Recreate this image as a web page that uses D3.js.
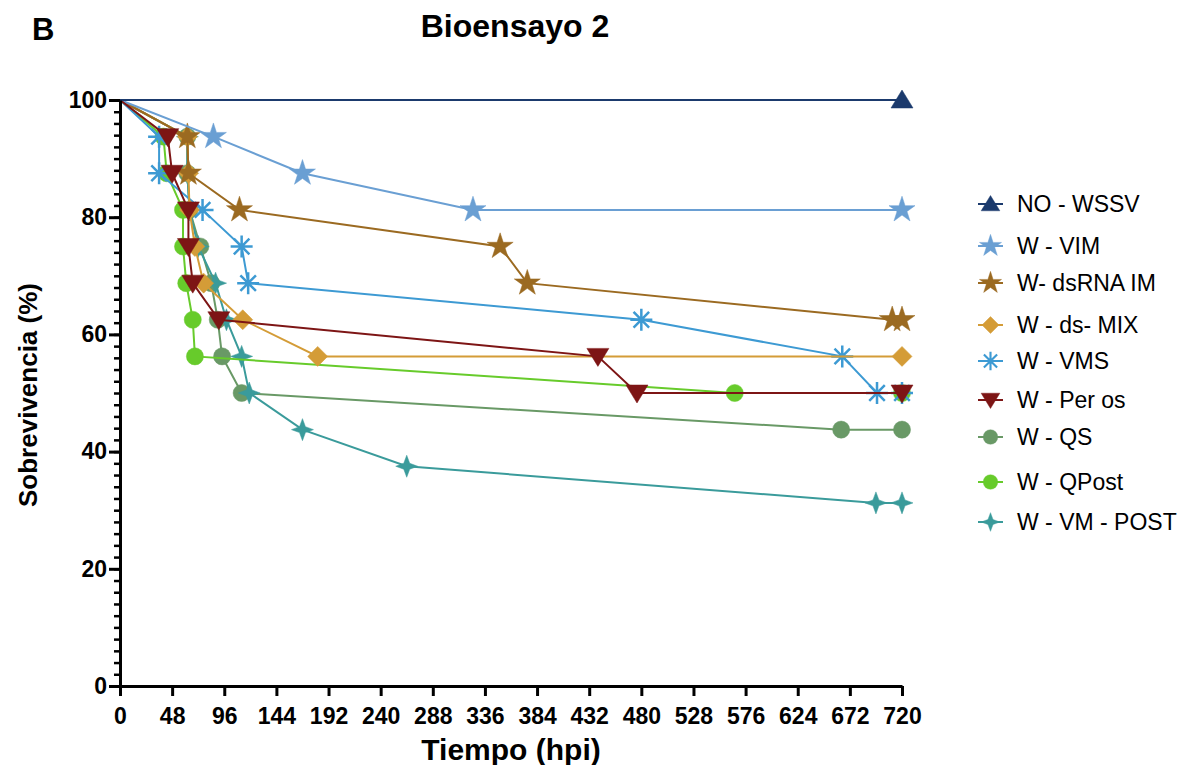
<!DOCTYPE html>
<html>
<head>
<meta charset="utf-8">
<script src="https://cdn.jsdelivr.net/npm/d3@7"></script>
<style>
  html, body { margin: 0; padding: 0; background: #fff; }
  svg { display: block; font-family: "Liberation Sans", Arial, Helvetica, sans-serif; }
</style>
</head>
<body>
<svg id="chart" width="1185" height="765"></svg>
<script>
// Survival (%) over time (hours post infection) for each treatment group
const seriesNames = ["NO - WSSV", "W - VIM", "W- dsRNA IM", "W - ds- MIX", "W - VMS",
                     "W - Per os", "W - QS", "W - QPost", "W - VM - POST"];

const hoursNoWssv = [0, 720];
const survNoWssv  = [100, 100];

const hoursVim = [0, 86, 168, 325, 720];
const survVim  = [100, 93.75, 87.5, 81.25, 81.25];

const hoursDsRnaIm = [0, 62, 63, 110, 350, 375, 711, 720];
const survDsRnaIm  = [100, 93.75, 87.5, 81.25, 75, 68.75, 62.5, 62.5];

const hoursDsMix = [0, 62, 63, 64, 69, 77, 113, 182, 720];
const survDsMix  = [100, 93.75, 87.5, 81.25, 75, 68.75, 62.5, 56.25, 56.25];

const hoursVms = [0, 36, 36, 76, 112, 118, 480, 665, 697, 720];
const survVms  = [100, 93.75, 87.5, 81.25, 75, 68.75, 62.5, 56.25, 50, 50];

const hoursPerOs = [0, 44, 48, 63, 63, 67, 91, 440, 476, 720];
const survPerOs  = [100, 93.75, 87.5, 81.25, 75, 68.75, 62.5, 56.25, 50, 50];

const hoursQs = [0, 62, 62, 64, 74, 84, 90, 94, 112, 664, 720];
const survQs  = [100, 93.75, 87.5, 81.25, 75, 68.75, 62.5, 56.25, 50, 43.75, 43.75];

const hoursQPost = [0, 40, 43, 58, 58, 61, 67, 69, 566, 720];
const survQPost  = [100, 93.75, 87.5, 81.25, 75, 68.75, 62.5, 56.25, 50, 50];

const hoursVmPost = [0, 62, 62, 64, 72, 88, 98, 112, 119, 168, 264, 696, 720];
const survVmPost  = [100, 93.75, 87.5, 81.25, 75, 68.75, 62.5, 56.25, 50, 43.75, 37.5, 31.25, 31.25];

const xTicks = [0, 48, 96, 144, 192, 240, 288, 336, 384, 432, 480, 528, 576, 624, 672, 720];
const yTicks = [0, 20, 40, 60, 80, 100];

// marker path generators (centred at 0,0)
const shapes = {
  triUp: () => "M0,-10L11,8L-11,8Z",
  triDown: () => "M-11,-8L11,-8L0,10Z",
  star: () => d3.symbol(d3.symbolStar, 210)(),
  diamond: () => "M0,-10L10,0L0,10L-10,0Z",
  circle: () => d3.symbol(d3.symbolCircle, 230)(),
  asterisk: () => {
    let p = "";
    for (let i = 0; i < 4; i++) {
      const a = i * Math.PI / 4, r = 11;
      p += `M${-r * Math.cos(a)},${-r * Math.sin(a)}L${r * Math.cos(a)},${r * Math.sin(a)}`;
    }
    return p;
  },
  star4: () => {
    const R = 11, r = 4.2, pts = [];
    for (let i = 0; i < 8; i++) {
      const a = i * Math.PI / 4 - Math.PI / 2;
      const rad = i % 2 === 0 ? R : r;
      pts.push([rad * Math.cos(a), rad * Math.sin(a)]);
    }
    return "M" + pts.map(p => p.join(",")).join("L") + "Z";
  }
};

const series = [
  { name: seriesNames[0], hours: hoursNoWssv,  surv: survNoWssv,  color: "#1b3a6d", shape: "triUp" },
  { name: seriesNames[1], hours: hoursVim,     surv: survVim,     color: "#6a9fd3", shape: "star" },
  { name: seriesNames[2], hours: hoursDsRnaIm, surv: survDsRnaIm, color: "#9b6a21", shape: "star" },
  { name: seriesNames[3], hours: hoursDsMix,   surv: survDsMix,   color: "#d49c37", shape: "diamond" },
  { name: seriesNames[4], hours: hoursVms,     surv: survVms,     color: "#3d9ad3", shape: "asterisk" },
  { name: seriesNames[5], hours: hoursPerOs,   surv: survPerOs,   color: "#7d1515", shape: "triDown" },
  { name: seriesNames[6], hours: hoursQs,      surv: survQs,      color: "#699966", shape: "circle" },
  { name: seriesNames[7], hours: hoursQPost,   surv: survQPost,   color: "#67cb2b", shape: "circle" },
  { name: seriesNames[8], hours: hoursVmPost,  surv: survVmPost,  color: "#3a9b9b", shape: "star4" }
];

// stacking order of the curves (bottom first)
const drawOrder = [6, 8, 7, 4, 3, 2, 1, 5, 0];

const svg = d3.select("#chart");
const x = d3.scaleLinear().domain([0, 720]).range([120, 902]);
const y = d3.scaleLinear().domain([0, 100]).range([686, 100]);

// curves
const line = d3.line().x(d => x(d[0])).y(d => y(d[1]));
const plot = svg.append("g");
drawOrder.forEach(i => {
  const s = series[i];
  const pts = s.hours.map((h, k) => [h, s.surv[k]]);
  const g = plot.append("g");
  g.append("path").attr("d", line(pts)).attr("fill", "none")
    .attr("stroke", s.color).attr("stroke-width", 2);
  const path = shapes[s.shape]();
  g.selectAll("path.m").data(pts.slice(1)).join("path").attr("class", "m")
    .attr("d", path)
    .attr("transform", d => `translate(${x(d[0])},${y(d[1])})`)
    .attr("fill", s.shape === "asterisk" ? "none" : s.color)
    .attr("stroke", s.color)
    .attr("stroke-width", s.shape === "asterisk" ? 2.5 : 0.5);
});

// axes
const axisStyle = g => {
  g.select(".domain").attr("stroke", "#000").attr("stroke-width", 3);
  g.selectAll(".tick line").attr("stroke", "#000").attr("stroke-width", 3);
  g.selectAll(".tick text").attr("fill", "#000").attr("font-size", 23)
    .attr("font-weight", "bold").attr("font-family", "'Liberation Sans', Arial, sans-serif");
};

svg.append("g").attr("transform", "translate(0,686)")
  .call(d3.axisBottom(x).tickValues(xTicks).tickSize(10).tickSizeOuter(0).tickPadding(12).tickFormat(d3.format("d")))
  .call(axisStyle);

svg.append("g").attr("transform", "translate(120,0)")
  .call(d3.axisLeft(y).tickValues(d3.range(0, 101, 2)).tickSize(6).tickSizeOuter(0).tickFormat(() => ""))
  .call(g => { g.select(".domain").remove(); g.selectAll(".tick line").attr("stroke", "#000").attr("stroke-width", 2.5); });

svg.append("g").attr("transform", "translate(120,0)")
  .call(d3.axisLeft(y).tickValues(yTicks).tickSize(11).tickSizeOuter(0).tickPadding(2).tickFormat(d3.format("d")))
  .call(axisStyle);

// titles
svg.append("text").attr("x", 32).attr("y", 40).attr("font-size", 31).attr("font-weight", "bold").text("B");
svg.append("text").attr("x", 515).attr("y", 37).attr("text-anchor", "middle")
  .attr("font-size", 32).attr("font-weight", "bold").text("Bioensayo 2");
svg.append("text").attr("x", 511).attr("y", 760).attr("text-anchor", "middle")
  .attr("font-size", 30).attr("font-weight", "bold").text("Tiempo (hpi)");
svg.append("text").attr("transform", "translate(37,395) rotate(-90)").attr("text-anchor", "middle")
  .attr("font-size", 26).attr("font-weight", "bold").text("Sobrevivencia (%)");

// legend
const legendY = [204, 246, 283, 325, 361, 400, 437, 482, 522];
const legend = svg.append("g");
series.forEach((s, i) => {
  const g = legend.append("g").attr("transform", `translate(0,${legendY[i]})`);
  g.append("line").attr("x1", 978).attr("x2", 1003).attr("stroke", s.color).attr("stroke-width", 2);
  g.append("path").attr("d", shapes[s.shape]())
    .attr("transform", "translate(990.5,0) scale(0.85)")
    .attr("fill", s.shape === "asterisk" ? "none" : s.color)
    .attr("stroke", s.color).attr("stroke-width", s.shape === "asterisk" ? 2.5 : 0.5);
  g.append("text").attr("x", 1017).attr("y", 8).attr("font-size", 23).attr("fill", "#000").text(s.name);
});
</script>
</body>
</html>
